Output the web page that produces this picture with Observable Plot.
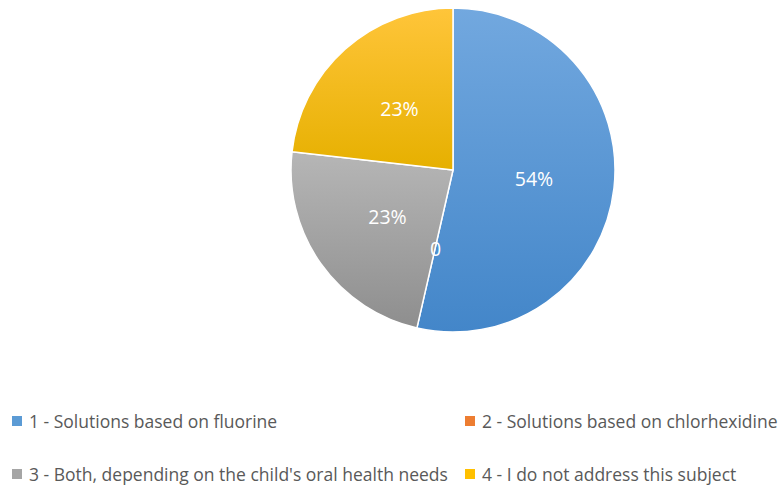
<!DOCTYPE html>
<html>
<head>
<meta charset="utf-8">
<script src="https://cdn.jsdelivr.net/npm/d3@7"></script>
<script src="https://cdn.jsdelivr.net/npm/@observablehq/plot@0.6"></script>
<style>
  html, body { margin: 0; padding: 0; background: #fff; }
  #wrap { position: relative; width: 783px; height: 490px; font-family: "Open Sans", Lato, sans-serif; }
  #legend { position: absolute; left: 0; top: 0; width: 783px; height: 490px; pointer-events: none; }
  .item { position: absolute; display: flex; align-items: center; font-size: 17.5px; color: #595959; white-space: nowrap; }
  .sw { width: 10px; height: 10px; margin-right: 7px; flex: none; }
</style>
</head>
<body>
<div id="wrap">
  <div id="chart"></div>
  <div id="legend"></div>
</div>
<script>
const categories = [
  "1 - Solutions based on fluorine",
  "2 - Solutions based on chlorhexidine",
  "3 - Both, depending on the child's oral health needs",
  "4 - I do not address this subject"
];
const values = [30, 0, 13, 13];
const labels = ["54%", "0", "23%", "23%"];
const colors = ["#5b9bd5", "#ed7d31", "#a5a5a5", "#ffc000"];
const gradTop = ["#72a8df", "#f28a45", "#b6b6b6", "#ffc53a"];
const gradBottom = ["#4386c9", "#e06d20", "#8e8e8e", "#e6b000"];

const data = categories.map((c, i) => ({category: c, value: values[i], label: labels[i], i}));
const arcs = d3.pie().sort(null).value(d => d.value)(data);
const labelData = arcs.map(a => {
  const mid = a.value === 0 ? a.startAngle : (a.startAngle + a.endAngle) / 2;
  return {label: a.data.label, x: 0.5 * Math.sin(mid), y: 0.5 * Math.cos(mid)};
});

const W = 783, H = 345;
const pieMark = (index, scales) => {
  const x = scales.x, y = scales.y;
  const cx = x(0), cy = y(0);
  const r = (x(1) - x(-1)) / 2;
  const g = d3.create("svg:g");
  const defs = g.append("defs");
  arcs.forEach((a, i) => {
    const lg = defs.append("linearGradient").attr("id", "grad" + i)
      .attr("x1", 0).attr("y1", 0).attr("x2", 0).attr("y2", 1);
    lg.append("stop").attr("offset", "0%").attr("stop-color", gradTop[i]);
    lg.append("stop").attr("offset", "100%").attr("stop-color", gradBottom[i]);
  });
  const arc = d3.arc().innerRadius(0).outerRadius(r);
  g.attr("transform", `translate(${cx},${cy})`)
    .selectAll("path")
    .data(arcs.filter(a => a.value > 0))
    .join("path")
    .attr("d", arc)
    .attr("fill", a => `url(#grad${a.index})`)
    .attr("stroke", "#fff")
    .attr("stroke-width", 1.5)
    .attr("stroke-linejoin", "round");
  return g.node();
};

const chart = Plot.plot({
  width: W,
  height: H,
  marginLeft: 291,
  marginRight: W - 615,
  marginTop: 8,
  marginBottom: H - 332,
  x: {domain: [-1, 1], axis: null},
  y: {domain: [-1, 1], axis: null},
  style: {background: "transparent"},
  marks: [
    pieMark,
    Plot.text(labelData, {
      x: "x", y: "y", text: "label",
      fill: "#ffffff", fontSize: 19.5,
      fontFamily: "'Open Sans', Lato, sans-serif"
    })
  ]
});
document.getElementById("chart").appendChild(chart);

const legendPos = [
  {left: 12, top: 421},
  {left: 465, top: 421},
  {left: 12, top: 474},
  {left: 465, top: 474}
];
const legend = document.getElementById("legend");
categories.forEach((c, i) => {
  const it = document.createElement("div");
  it.className = "item";
  it.style.left = legendPos[i].left + "px";
  it.style.top = (legendPos[i].top - 11) + "px";
  it.style.height = "22px";
  const sw = document.createElement("span");
  sw.className = "sw";
  sw.style.background = colors[i];
  const t = document.createElement("span");
  t.textContent = c;
  it.appendChild(sw);
  it.appendChild(t);
  legend.appendChild(it);
});
</script>
</body>
</html>
